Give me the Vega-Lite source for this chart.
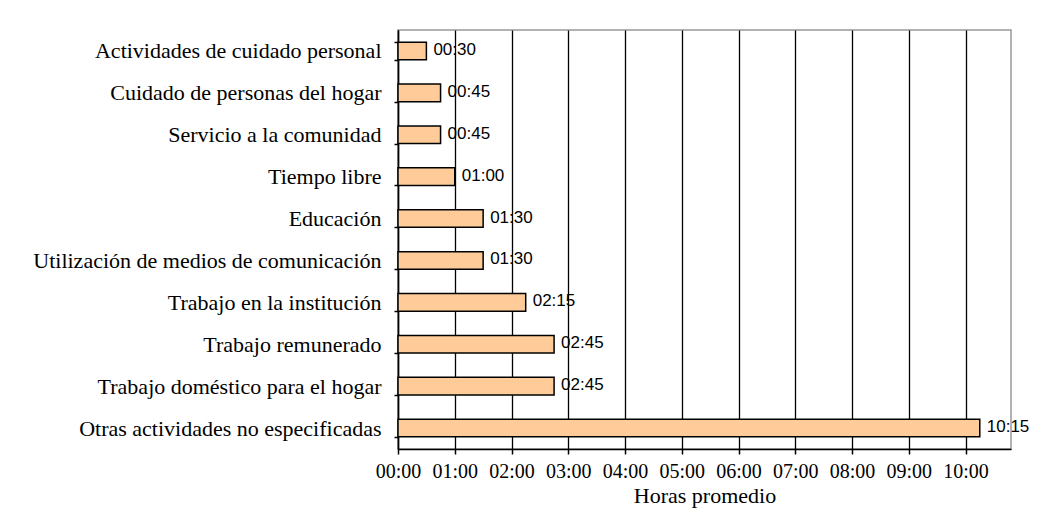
{
  "$schema": "https://vega.github.io/schema/vega-lite/v6.json",
  "autosize": {"type": "none"},
  "padding": {"left": 398, "top": 30, "right": 27, "bottom": 61},
  "width": 613,
  "height": 419,
  "background": "white",
  "data": {
    "values": [
      {"actividad": "Actividades de cuidado personal", "horas": 0.5, "etiqueta": "00:30"},
      {"actividad": "Cuidado de personas del hogar", "horas": 0.75, "etiqueta": "00:45"},
      {"actividad": "Servicio a la comunidad", "horas": 0.75, "etiqueta": "00:45"},
      {"actividad": "Tiempo libre", "horas": 1.0, "etiqueta": "01:00"},
      {"actividad": "Educación", "horas": 1.5, "etiqueta": "01:30"},
      {"actividad": "Utilización de medios de comunicación", "horas": 1.5, "etiqueta": "01:30"},
      {"actividad": "Trabajo en la institución", "horas": 2.25, "etiqueta": "02:15"},
      {"actividad": "Trabajo remunerado", "horas": 2.75, "etiqueta": "02:45"},
      {"actividad": "Trabajo doméstico para el hogar", "horas": 2.75, "etiqueta": "02:45"},
      {"actividad": "Otras actividades no especificadas", "horas": 10.25, "etiqueta": "10:15"}
    ]
  },
  "encoding": {
    "y": {
      "field": "actividad",
      "type": "nominal",
      "sort": null,
      "scale": {"paddingInner": 0.58, "paddingOuter": 0.29},
      "axis": {
        "title": null,
        "labelFont": "Liberation Serif",
        "labelFontSize": 22,
        "labelColor": "black",
        "labelPadding": 13,
        "labelLimit": 400,
        "tickBand": "extent",
        "tickSize": 4,
        "tickColor": "black",
        "domainColor": "black",
        "domainWidth": 1.5,
        "tickWidth": 1.5,
        "grid": false
      }
    },
    "x": {
      "field": "horas",
      "type": "quantitative",
      "scale": {"domain": [0, 10.8], "nice": false, "zero": true},
      "axis": {
        "title": "Horas promedio",
        "titleFont": "Liberation Serif",
        "titleFontSize": 22,
        "titleFontWeight": "normal",
        "titleColor": "black",
        "titlePadding": 4,
        "values": [0, 1, 2, 3, 4, 5, 6, 7, 8, 9, 10],
        "labelExpr": "(datum.value < 10 ? '0' : '') + datum.value + ':00'",
        "labelFont": "Liberation Serif",
        "labelFontSize": 20,
        "labelColor": "black",
        "labelPadding": 7,
        "labelFlush": false,
        "tickSize": 5,
        "tickColor": "black",
        "tickWidth": 1.5,
        "domainColor": "black",
        "domainWidth": 1.5,
        "grid": true,
        "gridColor": "black",
        "gridWidth": 1.3,
        "gridOpacity": 1
      }
    }
  },
  "layer": [
    {
      "mark": {"type": "bar", "fill": "#FFCC99", "stroke": "black", "strokeWidth": 1.5}
    },
    {
      "mark": {
        "type": "text",
        "align": "left",
        "baseline": "middle",
        "dx": 7,
        "dy": -1,
        "font": "Liberation Sans",
        "fontSize": 17,
        "color": "black"
      },
      "encoding": {"text": {"field": "etiqueta"}}
    }
  ],
  "config": {
    "view": {"stroke": "#999999", "strokeWidth": 1.5}
  }
}
